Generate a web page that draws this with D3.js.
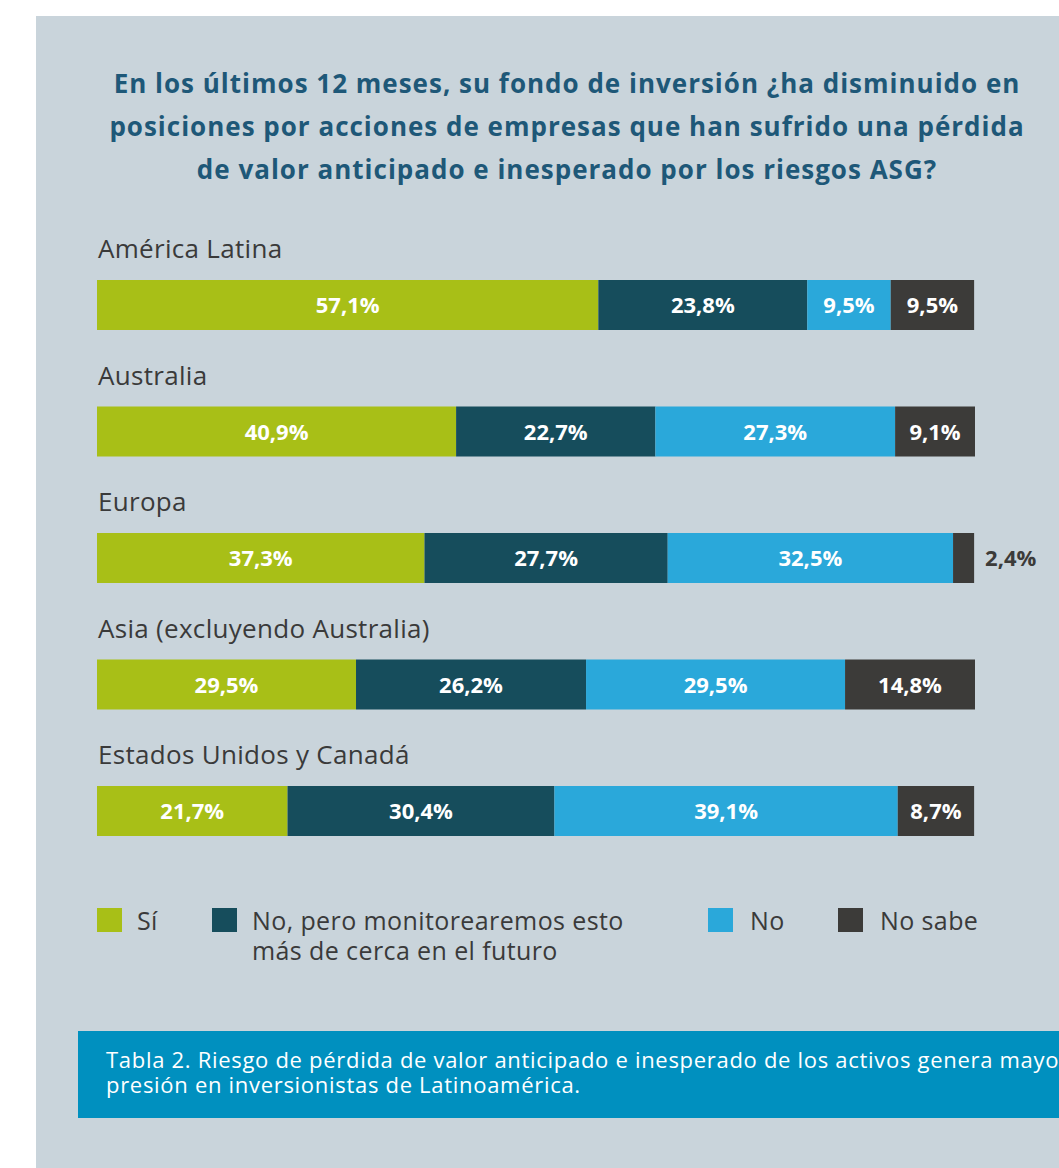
<!DOCTYPE html>
<html>
<head>
<meta charset="utf-8">
<script src="https://cdn.jsdelivr.net/npm/d3@7"></script>
<style>
  html, body { margin: 0; padding: 0; background: #fff; overflow: hidden; }
  text { font-family: "Open Sans", sans-serif; }
</style>
</head>
<body>
<div id="viz-container"></div>
<script>
var categories = ["América Latina", "Australia", "Europa", "Asia (excluyendo Australia)", "Estados Unidos y Canadá"];
var seriesNames = ["Sí", "No, pero monitorearemos esto más de cerca en el futuro", "No", "No sabe"];
var si = [57.1, 40.9, 37.3, 29.5, 21.7];
var noPero = [23.8, 22.7, 27.7, 26.2, 30.4];
var no = [9.5, 27.3, 32.5, 29.5, 39.1];
var noSabe = [9.5, 9.1, 2.4, 14.8, 8.7];
var titleLines = [
  "En los últimos 12 meses, su fondo de inversión ¿ha disminuido en",
  "posiciones por acciones de empresas que han sufrido una pérdida",
  "de valor anticipado e inesperado por los riesgos ASG?"
];
var captionLines = [
  "Tabla 2. Riesgo de pérdida de valor anticipado e inesperado de los activos genera mayor",
  "presión en inversionistas de Latinoamérica."
];

var colors = ["#a8bf17", "#164d5c", "#2aa8da", "#3c3b39"];

var width = 1059, height = 1168;

var svg = d3.select("#viz-container").append("svg")
    .attr("width", width)
    .attr("height", height);

// grey panel
svg.append("rect")
    .attr("x", 36).attr("y", 16)
    .attr("width", width).attr("height", height)
    .style("fill", "#c9d4db");

// title
svg.append("g").selectAll("text")
    .data(titleLines)
  .enter().append("text")
    .attr("x", 567)
    .attr("y", function(d, i) { return 93 + i * 43; })
    .attr("text-anchor", "middle")
    .style("font-size", "26px")
    .style("letter-spacing", "1px")
    .style("font-weight", "bold")
    .style("fill", "#1e5878")
    .text(function(d) { return d; });

// build table for the stack
var table = categories.map(function(c, i) {
  return { cat: c, s0: si[i], s1: noPero[i], s2: no[i], s3: noSabe[i] };
});
var layers = d3.stack().keys(["s0", "s1", "s2", "s3"])(table);

var x = d3.scaleLinear().domain([0, 100]).range([97, 975]);
var rowY = d3.scaleLinear().domain([0, categories.length - 1]).range([280, 786]);
var barH = 50;

// category labels
svg.append("g").selectAll("text")
    .data(categories)
  .enter().append("text")
    .attr("x", 98)
    .attr("y", function(d, i) { return rowY(i) - 22; })
    .style("font-size", "26px")
    .style("letter-spacing", "0.3px")
    .style("fill", "#3a3a3a")
    .text(function(d) { return d; });

var layer = svg.append("g").selectAll("g")
    .data(layers)
  .enter().append("g")
    .style("fill", function(d, i) { return colors[i]; });

layer.selectAll("rect")
    .data(function(d) { return d; })
  .enter().append("rect")
    .attr("x", function(d) { return x(d[0]); })
    .attr("y", function(d, i) { return rowY(i); })
    .attr("width", function(d) { return x(d[1]) - x(d[0]); })
    .attr("height", barH);

function fmt(v) { return v.toFixed(1).replace(".", ",") + "%"; }

layer.selectAll("text")
    .data(function(d) { return d; })
  .enter().append("text")
    .each(function(d, i) {
      var w = x(d[1]) - x(d[0]);
      var inside = w > 45;
      d3.select(this)
        .attr("x", inside ? (x(d[0]) + x(d[1])) / 2 : x(d[1]) + 11)
        .attr("y", rowY(i) + barH / 2 + 8)
        .attr("text-anchor", inside ? "middle" : "start")
        .style("fill", inside ? "#fff" : "#3c3b39");
    })
    .style("font-size", "22px")
    .style("font-weight", "bold")
    .text(function(d) { return fmt(d[1] - d[0]); });

// legend
var legendX = [97, 212, 708, 838];
var legendLines = [["Sí"], ["No, pero monitorearemos esto", "más de cerca en el futuro"], ["No"], ["No sabe"]];
var leg = svg.append("g").selectAll("g")
    .data(seriesNames)
  .enter().append("g")
    .attr("transform", function(d, i) { return "translate(" + legendX[i] + ",908)"; });
leg.append("rect")
    .attr("width", 25).attr("height", 24)
    .style("fill", function(d, i) { return colors[i]; });
leg.each(function(d, i) {
  d3.select(this).selectAll("text")
      .data(legendLines[i])
    .enter().append("text")
      .attr("x", 40 + (i >= 2 ? 2 : 0))
      .attr("y", function(t, j) { return 22 + j * 30; })
      .style("font-size", "25px")
      .style("letter-spacing", "0.4px")
      .style("fill", "#3a3a3a")
      .text(function(t) { return t; });
});

// caption box
svg.append("rect")
    .attr("x", 78).attr("y", 1031)
    .attr("width", width).attr("height", 87)
    .style("fill", "#0090bf");
svg.append("g").selectAll("text")
    .data(captionLines)
  .enter().append("text")
    .attr("x", 106)
    .attr("y", function(d, i) { return 1068 + i * 25; })
    .style("font-size", "22px")
    .style("letter-spacing", "0.7px")
    .style("fill", "#fff")
    .text(function(d) { return d; });
</script>
</body>
</html>
